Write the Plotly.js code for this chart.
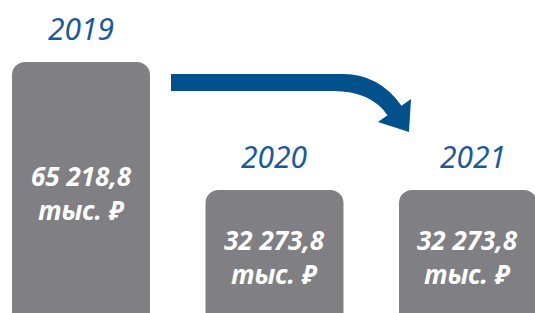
<!DOCTYPE html>
<html>
<head>
<meta charset="utf-8">
<script src="https://cdn.plot.ly/plotly-3.0.1.min.js"></script>
<style>html,body{margin:0;padding:0;background:#fff;}#chart{width:535px;height:313px;}</style>
</head>
<body>
<div id="chart"></div>
<script>
// ---- data ----
const categories = ['2019', '2020', '2021'];
const values = [65218.8, 32273.8, 32273.8];
const unitLabel = 'тыс. ₽';

// ---- helpers ----
function fmt(v) {
  const parts = v.toFixed(1).split('.');
  const intPart = parts[0].replace(/\B(?=(\d{3})+(?!\d))/g, ' ');
  return intPart + ',' + parts[1];
}
const W = 535, H = 313;
function P(px, py) { return (px / W).toFixed(5) + ',' + (1 - py / H).toFixed(5); }

const barColor = '#808084';
const blue = '#1B5A98';
const arrowBlue = '#02508C';
const font = '"Noto Sans", "Open Sans", sans-serif';

const trace = {
  type: 'bar',
  x: categories,
  y: values,
  marker: { color: barColor, cornerradius: 13, line: { width: 0 } },
  hoverinfo: 'skip'
};

const xShift = [0, 0, 5];
const annotations = [];
categories.forEach((c, i) => {
  annotations.push({
    x: i, y: values[i], xref: 'x', yref: 'y',
    text: '<i>' + c + '</i>', showarrow: false,
    yanchor: 'middle', yshift: 34, xshift: xShift[i],
    font: { family: font, size: 30, color: blue }
  });
  annotations.push({
    x: i, y: values[i] / 2, xref: 'x', yref: 'y',
    text: '<b><i>' + fmt(values[i]) + '<br>' + unitLabel + '</i></b>', showarrow: false,
    yanchor: 'middle', yshift: -4,
    font: { family: font, size: 26, color: '#ffffff' }
  });
});

const arrowPath = 'M ' + P(171, 74) + ' L ' + P(343, 74) +
  ' Q ' + P(379, 74) + ' ' + P(401.5, 105.7) +
  ' L ' + P(411, 99) + ' L ' + P(409, 132) + ' L ' + P(378, 122) +
  ' L ' + P(387.5, 115.3) +
  ' Q ' + P(371, 91) + ' ' + P(333, 91) +
  ' L ' + P(171, 91) + ' Z';

const layout = {
  width: W, height: H,
  margin: { l: 0, r: 0, t: 0, b: 0, pad: 0 },
  paper_bgcolor: '#ffffff', plot_bgcolor: '#ffffff',
  showlegend: false,
  bargap: 0.287,
  xaxis: { type: 'category', range: [-0.4186, 2.3463], visible: false, fixedrange: true },
  yaxis: { range: [618, 81177], visible: false, fixedrange: true },
  annotations: annotations,
  shapes: [{ type: 'path', xref: 'paper', yref: 'paper', path: arrowPath, fillcolor: arrowBlue, line: { width: 0 } }]
};

Plotly.newPlot('chart', [trace], layout, { staticPlot: true, displayModeBar: false });
</script>
</body>
</html>
